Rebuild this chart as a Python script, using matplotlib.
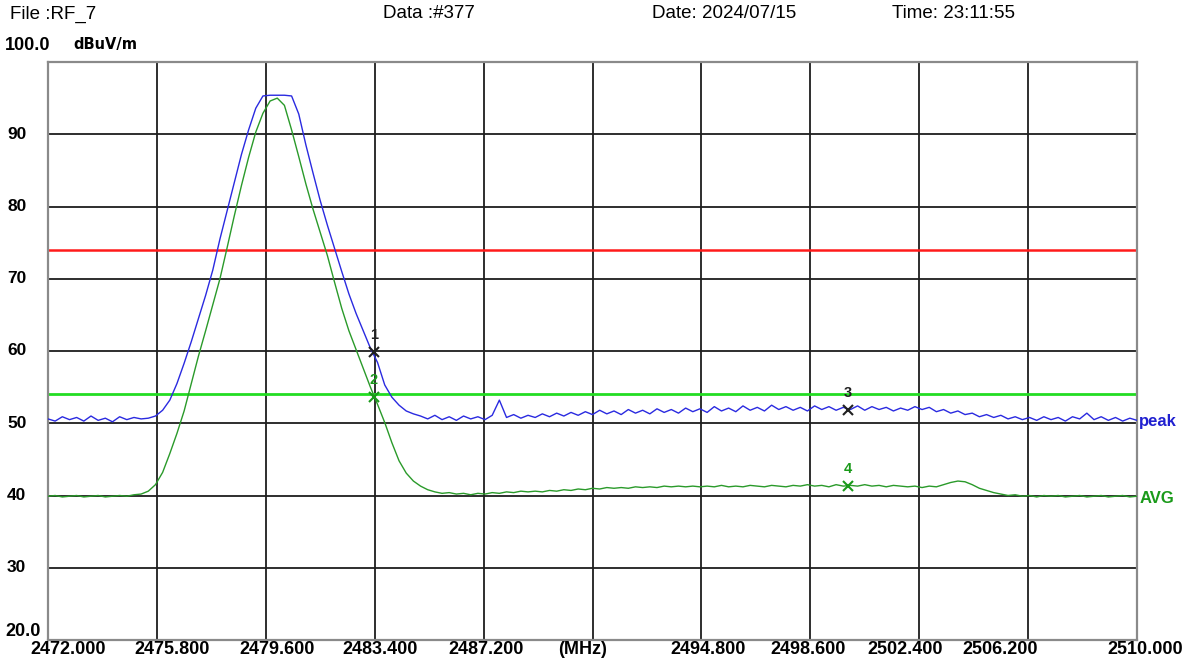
import numpy as np
import matplotlib
matplotlib.use("Agg")
import matplotlib.pyplot as plt
from matplotlib.transforms import blended_transform_factory

plt.rcParams['font.family'] = ['Liberation Sans', 'DejaVu Sans']

# sweep grid, 0.25 MHz per point
freq = np.linspace(2472.0, 2510.0, 153)

peak = [
    50.6, 50.3, 50.9, 50.5, 50.8, 50.3, 51.0, 50.4, 50.7, 50.2, 50.9, 50.5, 50.8, 50.6,
    50.7, 51.0, 51.8, 53.2, 55.5, 58.3, 61.3, 64.5, 67.7, 71.2, 75.5, 79.4, 83.3, 87.2,
    90.6, 93.6, 95.3, 95.4, 95.4, 95.4, 95.3, 92.8, 88.5, 84.6, 80.8, 77.4, 74.2, 71.0,
    67.9, 65.2, 62.8, 60.4, 58.4, 55.3, 53.6, 52.5, 51.7, 51.3, 51.0, 50.6, 51.1, 50.5,
    50.9, 50.4, 51.0, 50.6, 50.9, 50.5, 51.1, 53.2, 50.8, 51.2, 50.7, 51.1, 50.8, 51.3,
    50.9, 51.4, 51.0, 51.5, 51.1, 51.6, 51.2, 51.8, 51.3, 51.7, 51.2, 51.9, 51.4, 51.8,
    51.3, 52.0, 51.5, 51.9, 51.4, 52.1, 51.6, 52.0, 51.5, 52.3, 51.7, 52.1, 51.6, 52.4,
    51.8, 52.2, 51.7, 52.5, 51.9, 52.3, 51.8, 52.2, 51.7, 52.4, 51.9, 52.3, 51.8, 52.2,
    51.9, 52.4, 51.8, 52.3, 51.9, 52.2, 51.7, 52.1, 51.8, 52.3, 51.9, 52.2, 51.6, 51.9,
    51.4, 51.7, 51.2, 51.4, 50.9, 51.2, 50.8, 51.1, 50.6, 50.9, 50.5, 50.8, 50.4, 50.9,
    50.5, 50.8, 50.3, 50.9, 50.6, 51.4, 50.5, 50.9, 50.4, 50.8, 50.3, 50.7, 50.4,
]

avg = [
    39.9, 40.0, 39.8, 39.9, 40.0, 39.8, 39.9, 40.0, 39.8, 39.9, 40.0, 39.9, 40.1, 40.2,
    40.6, 41.5, 43.2, 45.8, 48.6, 51.7, 55.5, 59.3, 62.8, 66.4, 70.0, 74.3, 78.7, 82.9,
    86.8, 90.3, 92.9, 94.6, 95.0, 94.0, 90.6, 86.9, 83.1, 79.6, 76.4, 73.2, 69.5, 65.9,
    62.8, 60.2, 57.6, 55.0, 52.6, 50.1, 47.3, 44.8, 43.1, 42.0, 41.3, 40.8, 40.5, 40.3,
    40.4, 40.2, 40.3, 40.1, 40.3, 40.2, 40.4, 40.3, 40.5, 40.4, 40.6, 40.5, 40.6, 40.5,
    40.7, 40.6, 40.8, 40.7, 40.9, 40.8, 41.0, 40.9, 41.1, 41.0, 41.1, 41.0, 41.2, 41.1,
    41.2, 41.1, 41.3, 41.2, 41.3, 41.2, 41.3, 41.2, 41.3, 41.2, 41.4, 41.2, 41.3, 41.2,
    41.4, 41.3, 41.2, 41.4, 41.3, 41.2, 41.4, 41.3, 41.5, 41.3, 41.4, 41.2, 41.5, 41.3,
    41.4, 41.3, 41.5, 41.3, 41.4, 41.2, 41.4, 41.3, 41.2, 41.3, 41.1, 41.3, 41.2, 41.5,
    41.8, 42.0, 41.9, 41.5, 41.0, 40.7, 40.4, 40.2, 40.0, 40.1, 39.9, 40.0, 39.8, 40.0,
    39.9, 40.0, 39.8, 39.9, 40.0, 39.8, 39.9, 40.0, 39.8, 39.9, 40.0, 39.8, 39.9,
]

limit_peak = 74
limit_avg = 54

marker_ids = ["1", "2", "3", "4"]
marker_freq = [2483.37, 2483.37, 2499.91, 2499.91]
marker_level = [59.8, 53.6, 51.8, 41.3]
marker_color = ["#202020", "#1a9a1a", "#202020", "#1a9a1a"]

grid_freq = [2472.0, 2475.8, 2479.6, 2483.4, 2487.2, 2491.0, 2494.8, 2498.6, 2502.4, 2506.2, 2510.0]
x_labels = ["2472.000", "2475.800", "2479.600", "2483.400", "2487.200", "(MHz)",
            "2494.800", "2498.600", "2502.400", "2506.200", "2510.000"]
x_label_pos = [2472.7, 2476.33, 2479.99, 2483.58, 2487.28, 2490.67,
               2495.03, 2498.52, 2501.9, 2505.22, 2510.28]
y_levels = [30, 40, 50, 60, 70, 80, 90]

fig = plt.figure(figsize=(11.85, 6.63), dpi=100)
ax = fig.add_axes([48 / 1185, 23 / 663, 1089 / 1185, 578 / 663])
ax.set_xlim(2472, 2510)
ax.set_ylim(20, 100)
ax.set_xticks([])
ax.set_yticks([])

for g in grid_freq[1:-1]:
    ax.axvline(g, color="#1e1e1e", lw=1.3, zorder=1)
for lv in y_levels:
    ax.axhline(lv, color="#1e1e1e", lw=1.3, zorder=1)
for s in ax.spines.values():
    s.set_color("#8a8a8a")
    s.set_linewidth(1.6)

ax.axhline(limit_peak, color="#ff1a1a", lw=1.8, zorder=2)
ax.axhline(limit_avg, color="#22dd22", lw=2.0, zorder=2)

ax.plot(freq, peak, color="#2a2ae0", lw=1.0, zorder=3)
ax.plot(freq, avg, color="#2a9a2a", lw=1.0, zorder=3)

for mid, mf, ml, mc in zip(marker_ids, marker_freq, marker_level, marker_color):
    ax.plot(mf, ml, marker="x", ms=7, mew=1.5, color=mc, zorder=4)
    ax.text(mf, ml + 1.4, mid, color=mc, fontsize=10.5, fontweight="bold",
            ha="center", va="bottom", zorder=4)

# right side trace names
ax.text(1.002, (50.3 - 20) / 80, "peak", transform=ax.transAxes, color="#2020d0",
        fontsize=12, fontweight="bold", va="center", ha="left", clip_on=False)
ax.text(1.002, (39.6 - 20) / 80, "AVG", transform=ax.transAxes, color="#1a9a1a",
        fontsize=12, fontweight="bold", va="center", ha="left", clip_on=False)

# x tick labels
tx = blended_transform_factory(ax.transData, fig.transFigure)
for lab, pos in zip(x_labels, x_label_pos):
    fig.text(pos, 1 - 650 / 663, lab, transform=tx, fontsize=13, fontweight="bold",
             ha="center", va="center")

# y tick labels
ty = blended_transform_factory(fig.transFigure, ax.transData)
for lv in y_levels:
    fig.text(7 / 1185, lv, str(lv), transform=ty, fontsize=12.5, fontweight="bold",
             ha="left", va="center")
fig.text(5 / 1185, 1 - 632 / 663, "20.0", fontsize=13, fontweight="bold", va="center")
fig.text(5 / 1185, 1 - 46 / 663, "100.0", fontsize=13, fontweight="bold", va="center")
fig.text(73 / 1185, 1 - 44 / 663, "dBuV/m", fontsize=10.5, fontweight="bold",
         family="DejaVu Sans", va="center")

# header
fig.text(10 / 1185, 1 - 14 / 663, "File :RF_7", fontsize=13.5, va="center")
fig.text(383 / 1185, 1 - 14 / 663, "Data :#377", fontsize=13.5, va="center")
fig.text(652 / 1185, 1 - 14 / 663, "Date: 2024/07/15", fontsize=13.5, va="center")
fig.text(892 / 1185, 1 - 14 / 663, "Time: 23:11:55", fontsize=13.5, va="center")

fig.savefig("out.png", dpi=100)
